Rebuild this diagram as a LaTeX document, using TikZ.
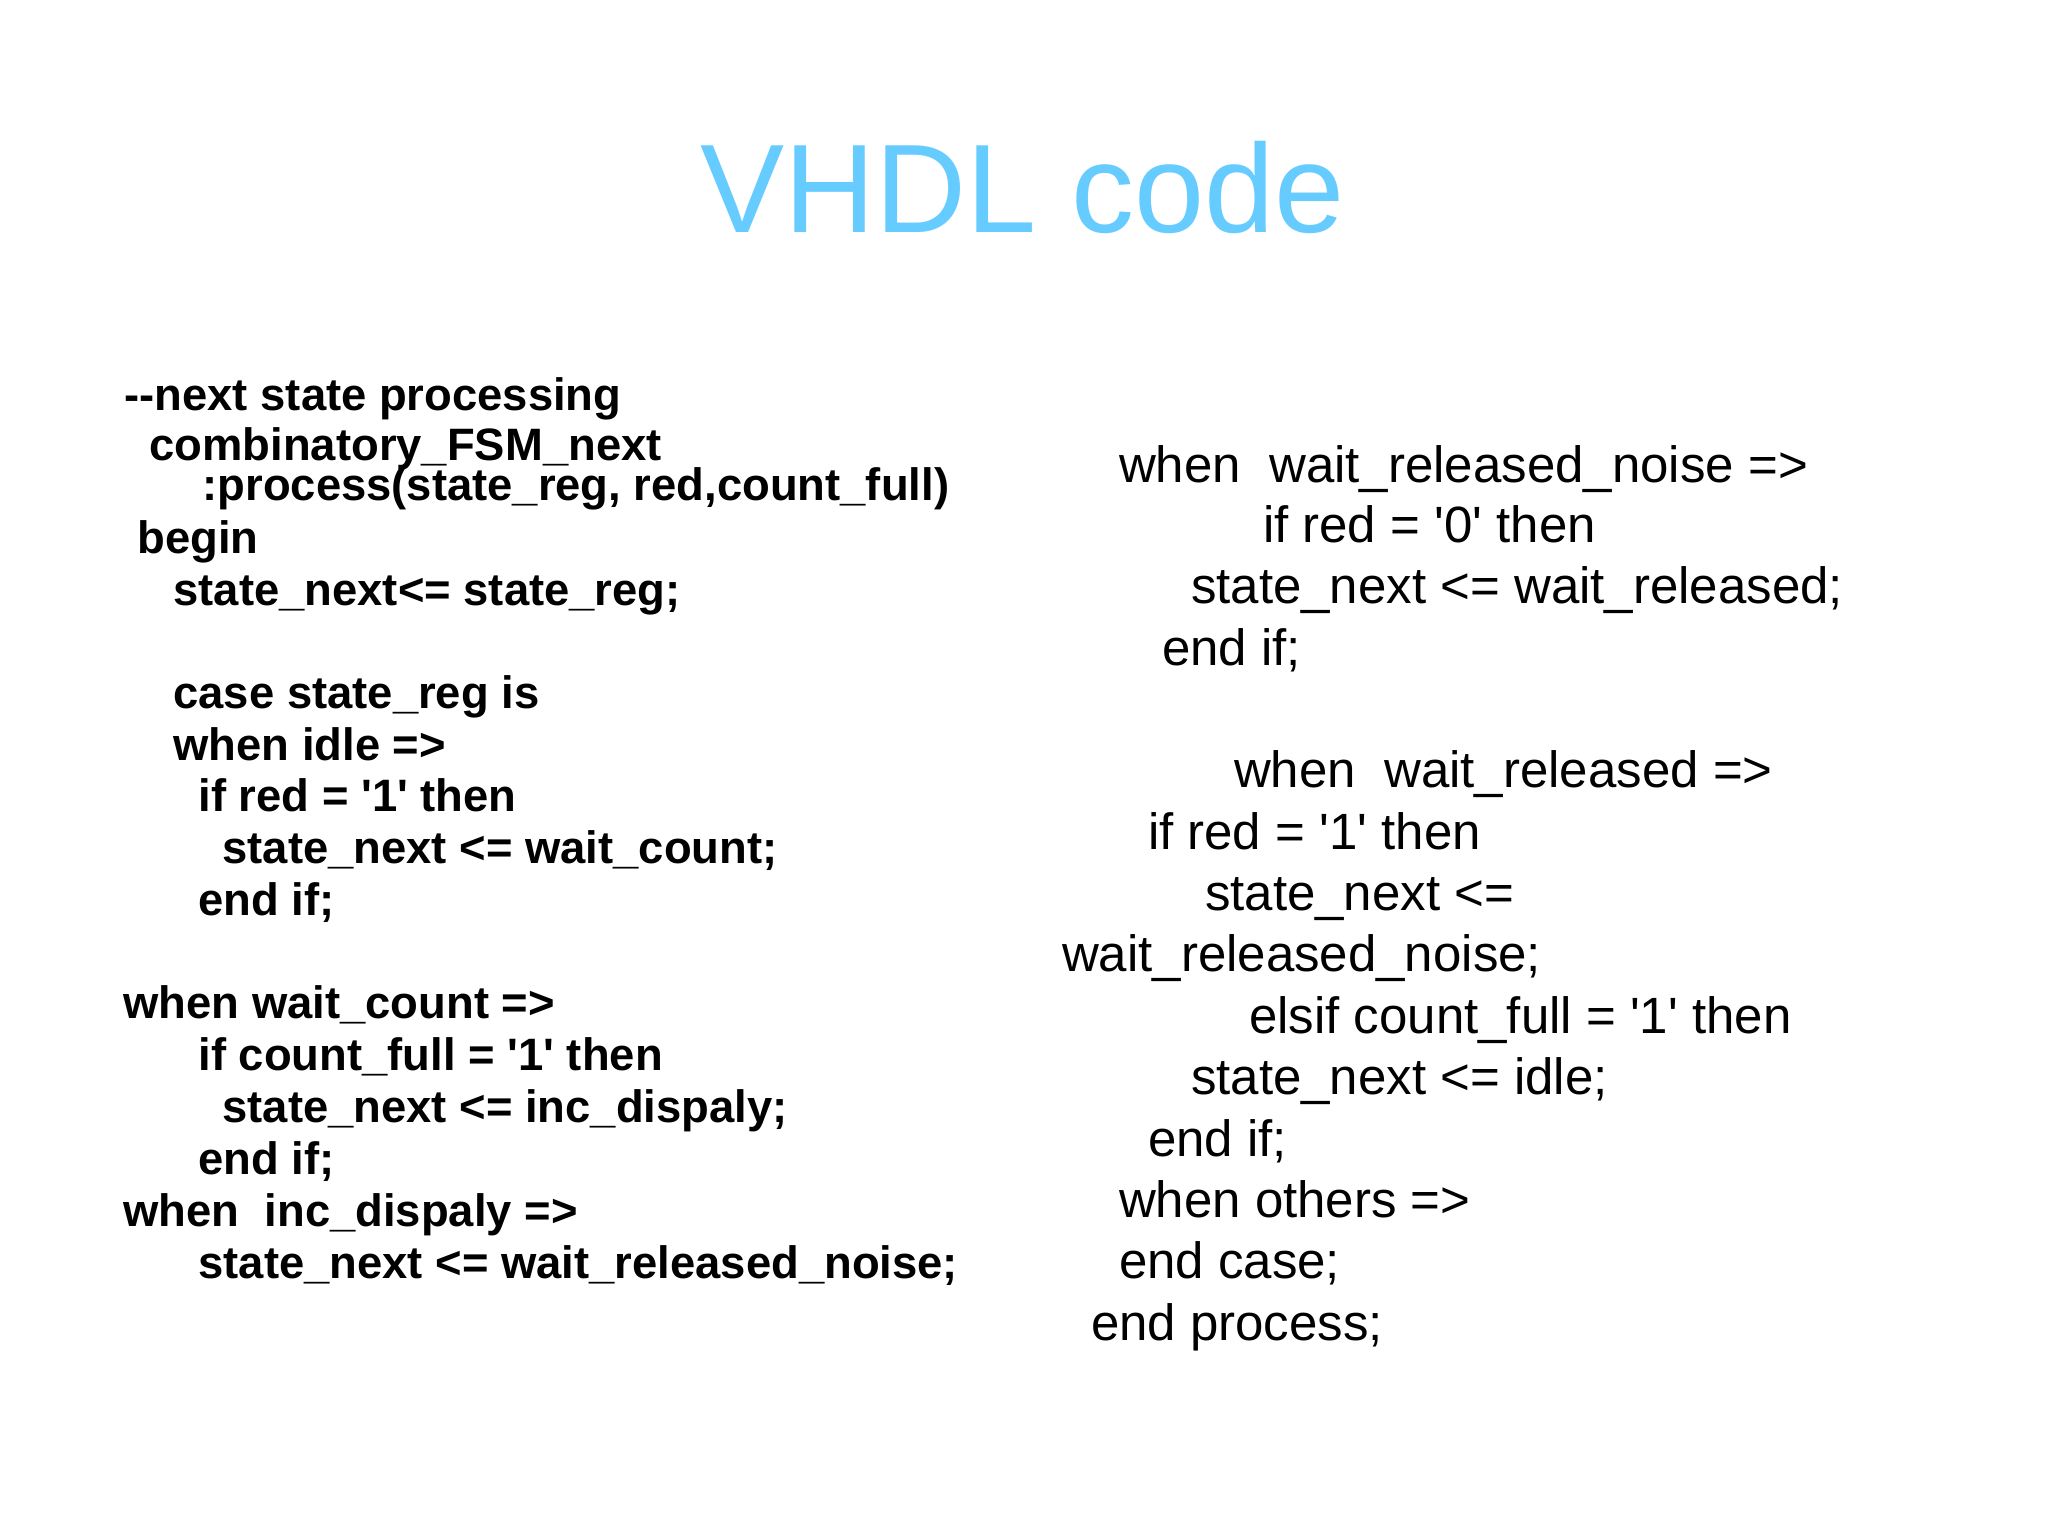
\documentclass[tikz,border=0pt]{standalone}
\usepackage{fontspec}
\setmainfont{Liberation Sans}
\definecolor{titleblue}{RGB}{102,204,255}
\newcommand\sqt{\textquotesingle}
\begin{document}
\begin{tikzpicture}[x=1pt,y=-1pt,
  bl/.style={anchor=base west,inner sep=0pt,outer sep=0pt,font=\fontsize{45.4}{52}\selectfont\bfseries},
  rl/.style={anchor=base west,inner sep=0pt,outer sep=0pt,font=\fontsize{51}{61}\selectfont}]
\useasboundingbox (0,0) rectangle (2048,1536);
\fill[white] (0,0) rectangle (2048,1536);
\node[anchor=base,inner sep=0pt,font=\fontsize{126}{150}\selectfont,text=titleblue] (title) at (1023,232) {VHDL code};
% left column
\node[bl] (l1) at (124.5,410) {-\kern0pt-next state processing};
\node[bl] (l2) at (149.5,460) {combinatory\_FSM\_next};
\node[bl] (l3) at (202.5,500) {:process(state\_reg, red,count\_full)};
\node[bl] (l4) at (137.5,553) {begin};
\node[bl] (l5) at (173.5,605) {state\_next<= state\_reg;};
\node[bl] (l7) at (173.5,708) {case state\_reg is};
\node[bl] (l8) at (173.5,760) {when idle =>};
\node[bl] (l9) at (198.5,811) {if red = \sqt1\sqt{} then};
\node[bl] (l10) at (222.5,863) {state\_next <= wait\_count;};
\node[bl] (l11) at (198.5,915) {end if;};
\node[bl] (l13) at (123.5,1018) {when wait\_count =>};
\node[bl] (l14) at (198.5,1070) {if count\_full = \sqt1\sqt{} then};
\node[bl] (l15) at (222.5,1122) {state\_next <= inc\_dispaly;};
\node[bl] (l16) at (198.5,1174) {end if;};
\node[bl] (l17) at (123.5,1226) {when\ \ inc\_dispaly =>};
\node[bl] (l18) at (198.5,1278) {state\_next <= wait\_released\_noise;};
% right column
\node[rl] (r1) at (1119,482) {when\ \ wait\_released\_noise =>};
\node[rl] (r2) at (1263,542) {if red = \sqt0\sqt{} then};
\node[rl] (r3) at (1191,603) {state\_next <= wait\_released;};
\node[rl] (r4) at (1162,665) {end if;};
\node[rl] (r6) at (1234,787) {when\ \ wait\_released =>};
\node[rl] (r7) at (1148,849) {if red = \sqt1\sqt{} then};
\node[rl] (r8) at (1205,910) {state\_next <=};
\node[rl] (r9) at (1062,971) {wait\_released\_noise;};
\node[rl] (r10) at (1249,1033) {elsif count\_full = \sqt1\sqt{} then};
\node[rl] (r11) at (1191,1094) {state\_next <= idle;};
\node[rl] (r12) at (1148,1156) {end if;};
\node[rl] (r13) at (1119,1217) {when others =>};
\node[rl] (r14) at (1119,1278) {end case;};
\node[rl] (r15) at (1091,1340) {end process;};
\end{tikzpicture}
\end{document}
